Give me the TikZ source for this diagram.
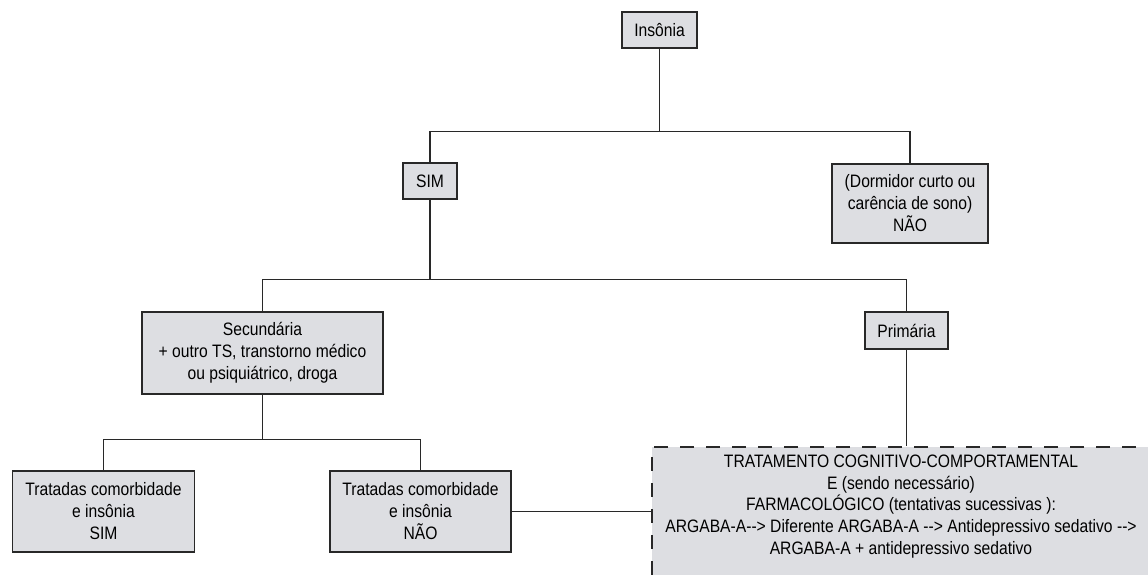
\documentclass[tikz,border=0pt]{standalone}
\usepackage{fontspec}
\setmainfont{Liberation Sans}[FakeStretch=0.87]
\definecolor{boxfill}{RGB}{221,222,226}
\definecolor{linec}{RGB}{40,40,40}
\newcommand{\arr}{\mbox{-}\mbox{-}>}
\begin{document}
\begin{tikzpicture}[x=1pt,y=-1pt,
  font=\fontsize{18}{22}\selectfont,
  box/.style={draw=linec, fill=boxfill, line width=1.2pt, inner sep=0pt, align=center},
  conn/.style={draw=linec, line width=1.2pt},
  dashbox/.style={draw=linec, fill=boxfill, line width=1.2pt, dash pattern=on 14pt off 12pt, inner sep=0pt}]
\useasboundingbox (0,0) rectangle (1148,575);
\clip (0,0) rectangle (1148,575);

\node[box, minimum width=75pt, minimum height=36pt] (ins) at (659.5,30) {Insônia};
\node[box, minimum width=54pt, minimum height=36pt] (sim) at (430,181) {SIM};
\node[box, minimum width=156pt, minimum height=79pt] (dor) at (910,203.5)
  {(Dormidor curto ou\\carência de sono)\\NÃO};
\node[box, minimum width=241pt, minimum height=82pt] (sec) at (262.5,353)
  {Secundária\\+ outro TS, transtorno médico\\ou psiquiátrico, droga};
\node[box, minimum width=83pt, minimum height=37pt] (pri) at (906.5,330.5) {Primária};
\node[box, minimum width=182pt, minimum height=81pt] (lb) at (103.5,511.5)
  {Tratadas comorbidade\\e insônia\\SIM};
\node[box, minimum width=181pt, minimum height=81pt] (mb) at (420.5,511.5)
  {Tratadas comorbidade\\e insônia\\NÃO};
\node[dashbox, minimum width=560pt, minimum height=170pt] (trat) at (932,532) {};
\node[align=center, inner sep=0pt, font=\fontsize{18}{21.7}\selectfont] (trattext) at (901,506.5)
  {TRATAMENTO COGNITIVO-COMPORTAMENTAL\\
   E (sendo necessário)\\
   FARMACOLÓGICO (tentativas sucessivas ):\\
   ARGABA-A\arr{} Diferente ARGABA-A \arr{} Antidepressivo sedativo \arr\\
   ARGABA-A + antidepressivo sedativo};

\path (ins.south) ++(0,83) coordinate (j1);
\draw[conn] (ins.south) -- (j1) -| (sim.north);
\draw[conn] (j1) -| (dor.north);
\path (sim.south) ++(0,80) coordinate (j2);
\draw[conn] (sim.south) -- (j2) -| (sec.north);
\draw[conn] (j2) -| (pri.north);
\draw[conn] (pri.south) -- (pri.south |- trat.north);
\path (sec.south) ++(0,45) coordinate (j3);
\draw[conn] (sec.south) -- (j3) -| (lb.north);
\draw[conn] (j3) -| (mb.north);
\draw[conn] (mb.east) -- (mb.east -| trat.west);
\end{tikzpicture}
\end{document}
